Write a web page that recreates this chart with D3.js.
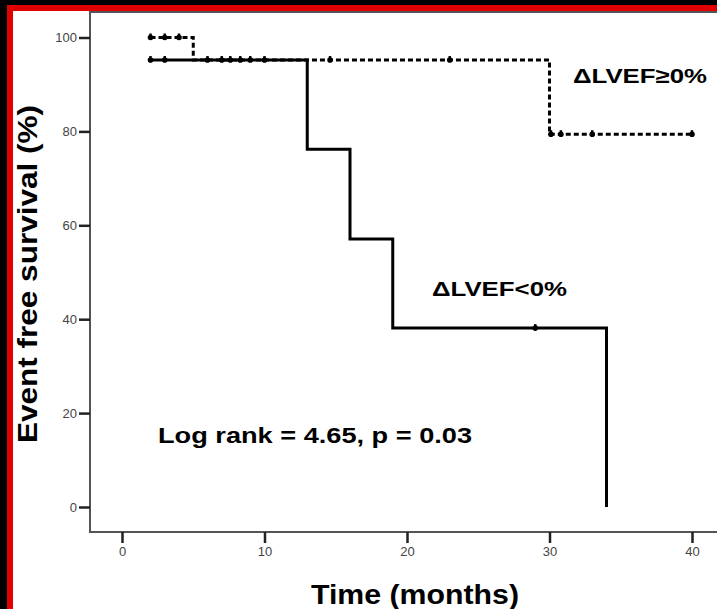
<!DOCTYPE html>
<html>
<head>
<meta charset="utf-8">
<script src="https://cdn.jsdelivr.net/npm/d3@7"></script>
<style>
  html, body { margin: 0; padding: 0; background: #000; }
  svg { display: block; }
</style>
</head>
<body>
<div id="chart"></div>
<script>
// ticks
var xTicks = [0, 10, 20, 30, 40];
var yTicks = [0, 20, 40, 60, 80, 100];

// ΔLVEF<0% (solid) - step points [time, survival]
var negTimes = [2, 13, 16, 19, 34];
var negSurv = [95.2, 76.2, 57.1, 38.1, 0];
var negCensor = [2, 3, 6, 7, 7.6, 8.3, 9, 10, 29];

// ΔLVEF≥0% (dashed)
var posTimes = [2, 5, 30, 40];
var posSurv = [100, 95.2, 79.4, 79.4];
var posCensorTimes = [2, 3, 4, 14.6, 23, 30.1, 30.8, 33, 40];

var W = 717, H = 609;

var svg = d3.select("#chart").append("svg")
  .attr("width", W)
  .attr("height", H);

// background panel + red border
svg.append("rect").attr("x", 0).attr("y", 0).attr("width", W).attr("height", H).attr("fill", "#000");
svg.append("rect").attr("x", 7).attr("y", 5).attr("width", W - 7).attr("height", H - 5).attr("fill", "#e00000");
svg.append("rect").attr("x", 13).attr("y", 11).attr("width", W - 13).attr("height", H - 11).attr("fill", "#fff");

var x = d3.scaleLinear().domain([0, 40]).range([122, 692]);
var y = d3.scaleLinear().domain([0, 100]).range([507, 37.5]);

// plot frame
var frame = {left: 90, top: 12, bottom: 532};
svg.append("path")
  .attr("d", "M" + W + "," + frame.top + "H" + frame.left + "V" + frame.bottom + "H" + W)
  .attr("fill", "none")
  .attr("stroke", "#555")
  .attr("stroke-width", 2);

// axes
var yAxis = svg.append("g")
  .attr("transform", "translate(" + frame.left + ",0)")
  .call(d3.axisLeft(y).tickValues(yTicks).tickSize(11).tickPadding(2));
var xAxis = svg.append("g")
  .attr("transform", "translate(0," + frame.bottom + ")")
  .call(d3.axisBottom(x).tickValues(xTicks).tickSize(11).tickPadding(4));

[xAxis, yAxis].forEach(function(a) {
  a.select(".domain").remove();
  a.selectAll(".tick line").attr("stroke", "#222").attr("stroke-width", 2.5);
  a.selectAll(".tick text")
    .attr("fill", "#444")
    .style("font-family", "'Liberation Sans Narrow', 'Liberation Sans', Arial, sans-serif")
    .style("font-size", "13px");
});

// step line generator
var step = d3.line()
  .x(function(d) { return x(d[0]); })
  .y(function(d) { return y(d[1]); })
  .curve(d3.curveStepAfter);

var posData = posTimes.map(function(t, i) { return [t, posSurv[i]]; });
var negData = negTimes.map(function(t, i) { return [t, negSurv[i]]; });

function survAt(times, surv, t) {
  var s = surv[0];
  for (var i = 0; i < times.length; i++) {
    if (t >= times[i]) s = surv[i];
  }
  return s;
}

svg.append("path")
  .datum(posData)
  .attr("d", step)
  .attr("fill", "none")
  .attr("stroke", "#000")
  .attr("stroke-width", 3)
  .attr("stroke-dasharray", "5,3");

svg.append("path")
  .datum(negData)
  .attr("d", step)
  .attr("fill", "none")
  .attr("stroke", "#000")
  .attr("stroke-width", 3);

// censor marks
function drawCensor(times, tList, sList) {
  var g = svg.append("g");
  times.forEach(function(t) {
    var s = survAt(tList, sList, t);
    g.append("line")
      .attr("x1", x(t)).attr("x2", x(t))
      .attr("y1", y(s) - 4).attr("y2", y(s) + 2)
      .attr("stroke", "#000").attr("stroke-width", 2.5);
    g.append("circle")
      .attr("cx", x(t)).attr("cy", y(s))
      .attr("r", 2.8)
      .attr("fill", "#000");
  });
}
drawCensor(negCensor, negTimes, negSurv);
drawCensor(posCensorTimes, posTimes, posSurv);

// text labels
var boldFont = "'Liberation Sans', Arial, sans-serif";

svg.append("text")
  .attr("x", 573).attr("y", 83)
  .attr("textLength", 134).attr("lengthAdjust", "spacingAndGlyphs")
  .style("font-family", boldFont).style("font-weight", "bold").style("font-size", "21px")
  .text("ΔLVEF≥0%");

svg.append("text")
  .attr("x", 432).attr("y", 296)
  .attr("textLength", 135).attr("lengthAdjust", "spacingAndGlyphs")
  .style("font-family", boldFont).style("font-weight", "bold").style("font-size", "21px")
  .text("ΔLVEF<0%");

svg.append("text")
  .attr("x", 158).attr("y", 443)
  .attr("textLength", 314).attr("lengthAdjust", "spacingAndGlyphs")
  .style("font-family", boldFont).style("font-weight", "bold").style("font-size", "22px")
  .text("Log rank = 4.65, p = 0.03");

svg.append("text")
  .attr("x", 311).attr("y", 604)
  .attr("textLength", 208).attr("lengthAdjust", "spacingAndGlyphs")
  .style("font-family", boldFont).style("font-weight", "bold").style("font-size", "27px")
  .text("Time (months)");

svg.append("text")
  .attr("transform", "translate(37,443) rotate(-90)")
  .attr("textLength", 338).attr("lengthAdjust", "spacingAndGlyphs")
  .style("font-family", boldFont).style("font-weight", "bold").style("font-size", "27px")
  .text("Event free survival (%)");
</script>
</body>
</html>
